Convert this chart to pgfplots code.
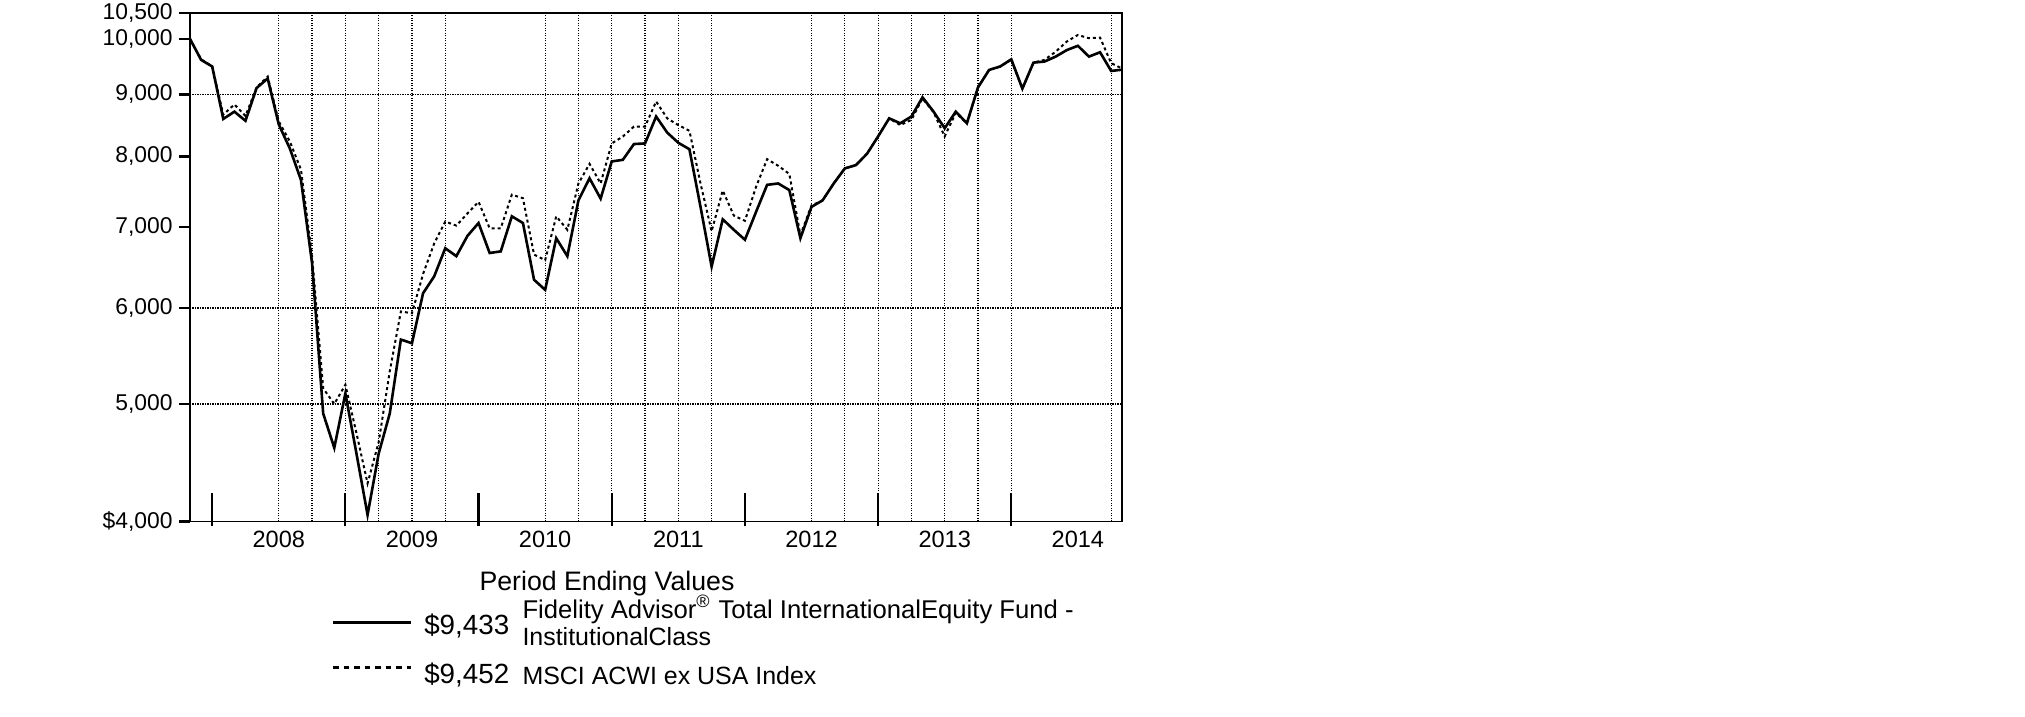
\documentclass[border=0pt]{standalone}
\usepackage{fontspec}
\setmainfont{Liberation Sans}
\usepackage{pgfplots}
\usepackage{pgfplotstable}
\pgfplotsset{compat=1.18}

% month 0 = start of Nov 2007, month 84 = end of Oct 2014
\pgfplotstableread{
m fund msci
0 10000 10000
1 9610 9620
2 9490 9490
3 8590 8660
4 8710 8830
5 8560 8640
6 9110 9120
7 9276 9310
8 8500 8550
9 8120 8230
10 7650 7800
11 6530 6620
12 4910 5150
13 4600 5000
14 5100 5185
15 4550 4730
16 4050 4300
17 4550 4650
18 4910 5320
19 5650 5960
20 5611 5940
21 6170 6400
22 6370 6780
23 6720 7070
24 6620 7015
25 6880 7180
26 7050 7340
27 6660 6980
28 6680 6980
29 7140 7440
30 7050 7390
31 6330 6640
32 6210 6570
33 6850 7140
34 6620 6960
35 7360 7600
36 7676 7888
37 7385 7600
38 7925 8200
39 7950 8308
40 8190 8467
41 8200 8467
42 8630 8880
43 8370 8600
44 8210 8490
45 8110 8400
46 7270 7600
47 6490 6940
48 7100 7500
49 6960 7150
50 6830 7080
51 7200 7550
52 7580 7960
53 7600 7860
54 7505 7740
55 6850 6890
56 7270 7290
57 7360 7360
58 7600 7600
59 7820 7820
60 7870 7870
61 8040 8040
62 8310 8310
63 8600 8600
64 8520 8490
65 8630 8575
66 8950 8930
67 8710 8700
68 8440 8310
69 8710 8690
70 8520 8520
71 9120 9120
72 9428 9428
73 9490 9490
74 9620 9610
75 9100 9100
76 9560 9560
77 9580 9610
78 9670 9760
79 9790 9950
80 9870 10075
81 9670 10013
82 9750 10025
83 9410 9550
84 9433 9452
}\growth

\begin{document}
\begin{tikzpicture}
\useasboundingbox (0,0) rectangle (202.5mm,71.7mm);
\begin{axis}[
    at={(19mm,19.55mm)}, anchor=south west,
    scale only axis, width=93.23mm, height=50.82mm,
    xmin=0, xmax=84,
    ymode=log, ymin=4000, ymax=10500,
    clip=false,
    axis line style={line width=0.17mm},
    tick pos=left, tick align=outside,
    xtick={8,20,32,44,56,68,80},
    xticklabels={2008,2009,2010,2011,2012,2013,2014},
    xtick style={draw=none},
    ytick={4000,5000,6000,7000,8000,9000,10000,10500},
    yticklabels={{\$4,000},{5,000},{6,000},{7,000},{8,000},{9,000},{10,000},{10,500}},
    ytick style={line width=0.22mm, black},
    major tick length=1.1mm,
    minor xtick={8,11,14,17,20,23,32,35,38,41,44,47,56,59,62,65,68,71,74,83},
    minor ytick={5000,6000,9000},
    minor tick length=0pt,
    xminorgrids, yminorgrids,
    minor grid style={black, line width=0.12mm, dash pattern=on 0.12mm off 0.13mm},
    yticklabel style={font=\fontsize{6.5}{7}\selectfont, xshift=0.6mm},
    xticklabel style={font=\fontsize{6.7}{7}\selectfont, yshift=1.4mm},
]
\addplot[black, line width=0.2mm, dash pattern=on 0.3mm off 0.3mm] table[x=m, y=msci] {\growth};
\addplot[black, line width=0.26mm] table[x=m, y=fund] {\growth};
\pgfplotsinvokeforeach{2,14,26,38,50,62,74}{
  \draw[black, line width=0.22mm] ([yshift=-0.5mm]axis cs:#1,4000) -- ([yshift=2.85mm]axis cs:#1,4000);
}
\end{axis}
% legend, in reference pixels (0.1 mm each)
\begin{scope}[x=0.1mm, y=0.1mm]
\node[anchor=center, inner sep=0, font=\fontsize{7.6}{9}\selectfont] at (607,133) {Period Ending Values};
\draw[line width=0.25mm] (333,94.5) -- (411,94.5);
\node[anchor=west, inner sep=0, font=\fontsize{7.9}{9}\selectfont] at (423.6,91) {\$9,433};
\node[anchor=west, inner sep=0, font=\fontsize{7.3}{8}\selectfont] at (521.8,107.4) {Fidelity Advisor\textsuperscript{®} Total InternationalEquity Fund -};
\node[anchor=west, inner sep=0, font=\fontsize{7.1}{8}\selectfont] at (521.8,80.3) {InstitutionalClass};
\draw[line width=0.25mm, dash pattern=on 0.55mm off 0.5mm] (333,49.3) -- (411,49.3);
\node[anchor=west, inner sep=0, font=\fontsize{7.9}{9}\selectfont] at (423.6,41.5) {\$9,452};
\node[anchor=west, inner sep=0, font=\fontsize{7.1}{8}\selectfont] at (521.8,41.5) {MSCI ACWI ex USA Index};
\end{scope}
\end{tikzpicture}
\end{document}
